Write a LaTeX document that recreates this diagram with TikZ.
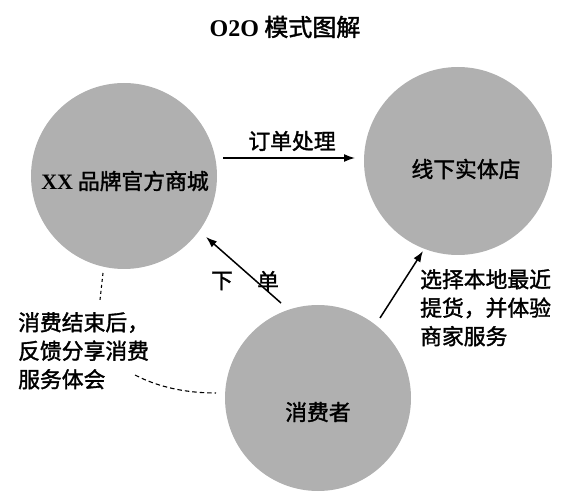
\documentclass[tikz,border=0pt]{standalone}
\usepackage{fontspec}
\setmainfont{Liberation Serif}
\newfontfamily\cjk{Noto Sans CJK SC}[FakeBold=1.6]
\newfontfamily\lat{Liberation Serif}
\usetikzlibrary{arrows.meta}
\definecolor{circgray}{RGB}{176,176,176}
\tikzset{
  circ/.style={circle, fill=circgray, draw=none, minimum size=#1, inner sep=0pt},
  lbl/.style={inner sep=0pt, font=\cjk\fontsize{21.8pt}{28.5pt}\selectfont},
  arr/.style={line width=1.5pt, -{Latex[length=11pt,width=8pt]}},
  dotline/.style={line width=1.1pt, dash pattern=on 3pt off 3pt},
  dashline/.style={line width=1.1pt, dash pattern=on 4.5pt off 3pt}
}
\begin{document}
\begin{tikzpicture}[x=1pt,y=-1pt]
\useasboundingbox (0,0) rectangle (566,500);
% title
\node[inner sep=0pt] (title) at (285,27) {\fontsize{24pt}{28pt}\selectfont{\lat\bfseries O2O}\cjk\ 模式图解};
% circles
\node[circ=186pt] (mall) at (124,176) {};
\node[circ=188pt] (store) at (458,161) {};
\node[circ=186pt] (cons) at (318,398) {};
% labels
\node[lbl] (malltxt) at (125,181) {{\lat\bfseries\fontsize{22pt}{24pt}\selectfont XX} 品牌官方商城};
\node[lbl] (storetxt) at (466,169) {线下实体店};
\node[lbl] (constxt) at (318,412) {消费者};
\node[lbl, anchor=north west, align=left] (pickup) at (420,269) {选择本地最近\\提货，并体验\\商家服务};
\node[lbl, anchor=north west, align=left] (feedback) at (18,312) {消费结束后，\\反馈分享消费\\服务体会};
% arrow coordinates
\coordinate (a1s) at (223,158);
\coordinate (a1e) at (355,158);
\coordinate (a2s) at (281,303);
\coordinate (a2e) at (206,237);
\coordinate (a3s) at (380,318);
\coordinate (a3e) at (423,251);
\coordinate (d1s) at (103,273);
\coordinate (d1e) at (100,300);
\coordinate (d2s) at (135,375);
\coordinate (d2e) at (216,393);
% arrows
\draw[arr] (a1s) -- (a1e);
\node[lbl] (ordertxt) at (292,141) {订单处理};
\draw[arr] (a2s) -- (a2e);
\node[lbl] (xia) at (222,281) {下};
\node[lbl] (dan) at (268,281) {单};
\draw[arr] (a3s) -- (a3e);
% dashed connectors
\draw[dotline] (d1s) -- (d1e);
\draw[dashline] (d2s) .. controls (160,388) and (188,393) .. (d2e);
\end{tikzpicture}
\end{document}
